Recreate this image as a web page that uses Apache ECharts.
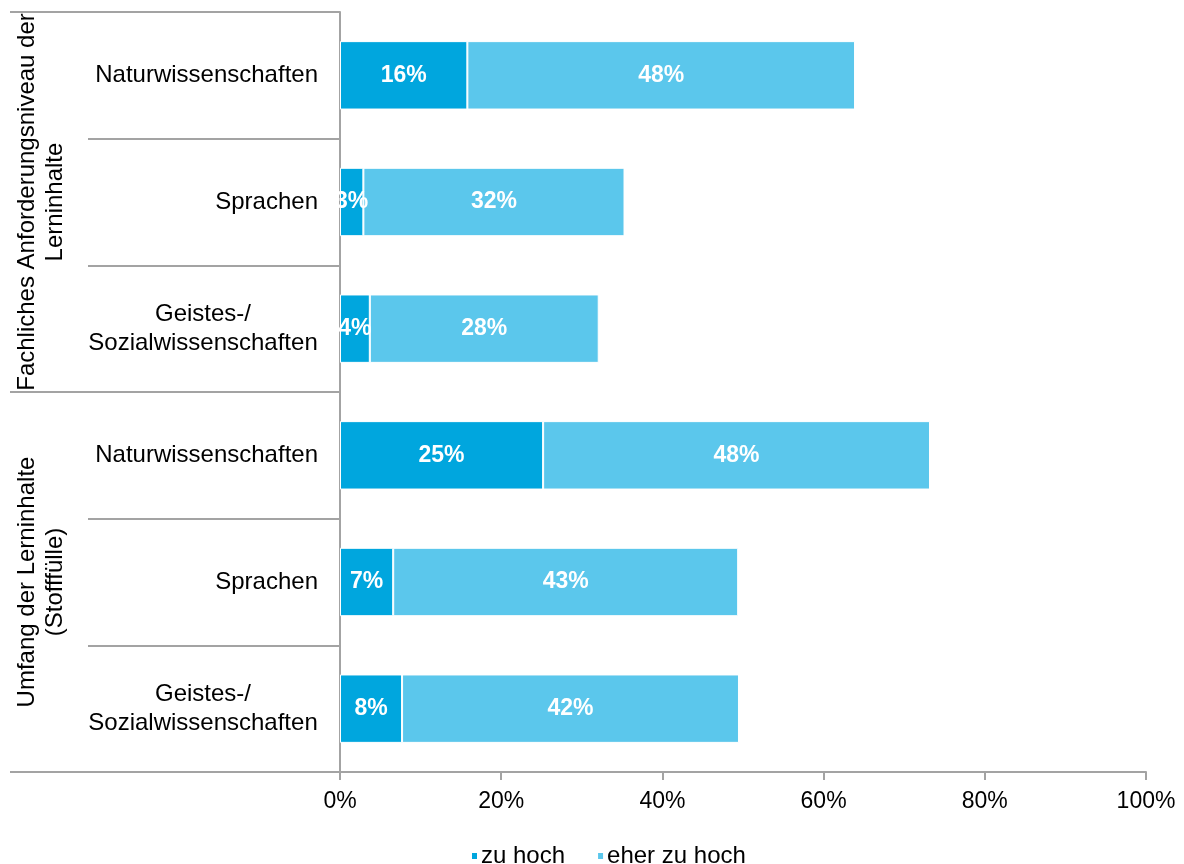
<!DOCTYPE html>
<html>
<head>
<meta charset="utf-8">
<script src="https://cdn.jsdelivr.net/npm/echarts@6/dist/echarts.min.js"></script>
<style>
  html, body { margin: 0; padding: 0; background: #fff; }
  #chart { width: 1184px; height: 864px; }
</style>
</head>
<body>
<div id="chart"></div>
<script>
  const categories = [
    'Naturwissenschaften', 'Sprachen', 'Geistes-/\nSozialwissenschaften',
    'Naturwissenschaften', 'Sprachen', 'Geistes-/\nSozialwissenschaften'
  ];
  const groups = [
    'Fachliches Anforderungsniveau der\nLerninhalte',
    'Umfang der Lerninhalte\n(Stofffülle)'
  ];
  const zuHoch = [15.8, 2.9, 3.7, 25.2, 6.6, 7.7];
  const eherZuHoch = [48.1, 32.4, 28.4, 48.0, 42.8, 41.8];
  const xTicks = [0, 20, 40, 60, 80, 100];

  const FONT = '"Liberation Sans", Arial, sans-serif';
  const LINE = '#a3a3a3';

  document.addEventListener('DOMContentLoaded', function () {
    const myChart = echarts.init(document.getElementById('chart'));

    const barLabel = {
      show: true,
      color: '#fff',
      fontFamily: FONT,
      fontWeight: 'bold',
      fontSize: 23,
      formatter: p => Math.round(p.value) + '%'
    };

    const option = {
      animation: false,
      grid: { left: 340, right: 38, top: 12, bottom: 92 },

      legend: {
        top: 839,
        left: 465,
        itemWidth: 7,
        itemHeight: 8,
        itemGap: 31,
        icon: 'rect',
        textStyle: { fontFamily: FONT, fontSize: 24, color: '#000', padding: [0, 0, 0, -2] },
        data: ['zu hoch', 'eher zu hoch']
      },

      xAxis: {
        type: 'value',
        min: xTicks[0],
        max: xTicks[xTicks.length - 1],
        interval: 20,
        axisLine: { show: true, lineStyle: { color: LINE, width: 2 } },
        axisTick: { show: true, length: 8, lineStyle: { color: LINE, width: 2 } },
        splitLine: { show: false },
        axisLabel: {
          margin: 18,
          fontFamily: FONT,
          fontSize: 23,
          color: '#000',
          formatter: '{value}%'
        }
      },

      yAxis: [
        {
          type: 'category',
          inverse: true,
          data: categories,
          axisLine: { show: true, lineStyle: { color: LINE, width: 2 } },
          axisTick: { show: true, length: 252, interval: 0, lineStyle: { color: LINE, width: 2 } },
          axisLabel: {
            interval: 0,
            margin: 22,
            fontFamily: FONT,
            fontSize: 24,
            color: '#000',
            lineHeight: 29,
            formatter: v => v.indexOf('\n') < 0 ? v
              : v.split('\n').map(s => '{c|' + s + '}').join('\n'),
            rich: {
              c: { width: 230, align: 'center', fontFamily: FONT, fontSize: 24, lineHeight: 29, color: '#000' }
            }
          }
        },
        {
          type: 'category',
          inverse: true,
          position: 'left',
          data: groups,
          axisLine: { show: false },
          axisTick: { show: true, length: 330, interval: 0, lineStyle: { color: LINE, width: 2 } },
          axisLabel: {
            interval: 0,
            rotate: 90,
            margin: 271,
            fontFamily: FONT,
            fontSize: 24,
            lineHeight: 28,
            color: '#000'
          }
        }
      ],

      series: [
        {
          name: 'zu hoch',
          type: 'bar',
          stack: 'total',
          barWidth: '54%',
          data: zuHoch,
          itemStyle: { color: '#00a6de', borderColor: '#fff', borderWidth: 1 },
          label: barLabel
        },
        {
          name: 'eher zu hoch',
          type: 'bar',
          stack: 'total',
          barWidth: '54%',
          data: eherZuHoch,
          itemStyle: { color: '#5bc7ec', borderColor: '#fff', borderWidth: 1 },
          label: barLabel
        }
      ]
    };

    myChart.setOption(option);
    window.addEventListener('resize', () => { myChart.resize(); });
  });
</script>
</body>
</html>
